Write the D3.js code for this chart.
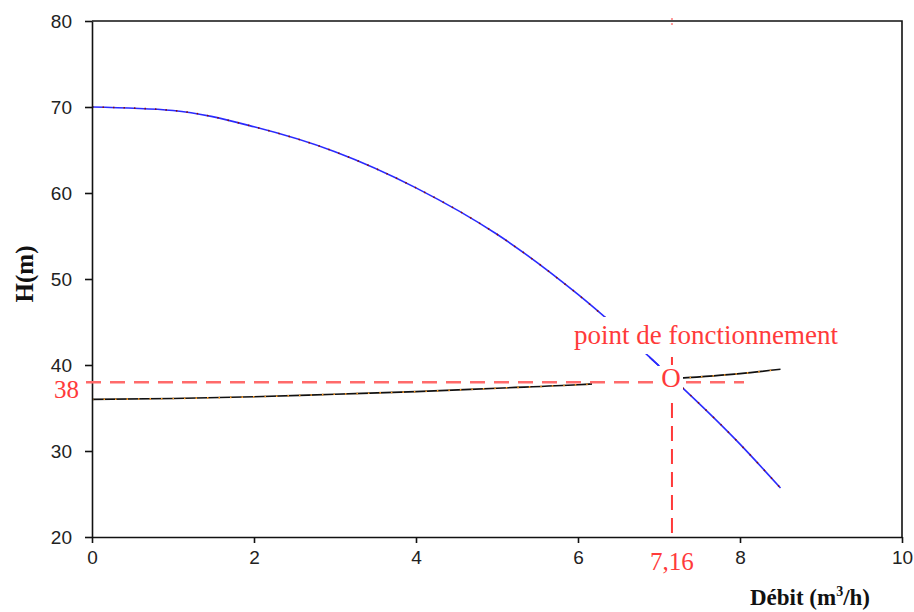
<!DOCTYPE html>
<html>
<head>
<meta charset="utf-8">
<script src="https://cdn.jsdelivr.net/npm/d3@7"></script>
<style>
  body { margin: 0; background: #fff; }
  svg { display: block; }
</style>
</head>
<body>
<div id="chart"></div>
<script>
var width = 914;
var height = 612;

// courbes
var debit = [0, 1, 2, 3, 4, 5, 6, 7, 8, 8.5];
var hPompe = [70, 69.6, 67.7, 64.8, 60.6, 55.2, 48.2, 39.9, 30.8, 25.7];
var hReseau = [36.0, 36.1, 36.3, 36.6, 36.9, 37.3, 37.7, 38.3, 39.0, 39.5];

var xTicks = [0, 2, 4, 6, 8, 10];
var yTicks = [20, 30, 40, 50, 60, 70, 80];

// point de fonctionnement
var qFonct = 7.16;
var hFonct = 38;
var labelFonct = "point de fonctionnement";

var x = d3.scaleLinear().domain([0, 10]).range([92, 902]);
var y = d3.scaleLinear().domain([20, 80]).range([537, 21]);

var svg = d3.select("#chart")
    .append("svg")
    .attr("width", width)
    .attr("height", height);

var line = d3.line()
    .x((d) => x(d[0]))
    .y((d) => y(d[1]))
    .curve(d3.curveMonotoneX);

var pompe = debit.map((q, i) => [q, hPompe[i]]);
var reseau = debit.map((q, i) => [q, hReseau[i]]);

// courbe de la pompe
svg.append("path")
    .attr("d", line(pompe))
    .attr("fill", "none")
    .attr("stroke", "#2a2aff")
    .attr("stroke-width", 1.6);
svg.append("path")
    .attr("d", line(pompe))
    .attr("fill", "none")
    .attr("stroke", "#8b1010")
    .attr("stroke-width", 1.6)
    .attr("stroke-dasharray", "1.5,9");

// courbe du reseau
svg.append("path")
    .attr("d", line(reseau))
    .attr("fill", "none")
    .attr("stroke", "#111")
    .attr("stroke-width", 1.6);
svg.append("path")
    .attr("d", line(reseau))
    .attr("fill", "none")
    .attr("stroke", "#ff9a20")
    .attr("stroke-width", 1.6)
    .attr("stroke-dasharray", "1.5,10");

// fonds blancs des etiquettes
svg.append("rect")
    .attr("x", 570).attr("y", 317)
    .attr("width", 272).attr("height", 37)
    .attr("fill", "#fff");
svg.append("rect")
    .attr("x", 592).attr("y", 366)
    .attr("width", 91).attr("height", 30)
    .attr("fill", "#fff");

// petit bout de courbe visible au-dessus du O
svg.append("clipPath").attr("id", "clipBout")
    .append("rect").attr("x", 649).attr("y", 355).attr("width", 10).attr("height", 11);
svg.append("path")
    .attr("d", line(pompe))
    .attr("fill", "none")
    .attr("stroke", "#2a2aff")
    .attr("stroke-width", 1.6)
    .attr("clip-path", "url(#clipBout)");

// axes
var axeX = d3.axisBottom(x).tickValues(xTicks).tickSize(6).tickSizeOuter(0).tickFormat(d3.format("d"));
var axeY = d3.axisLeft(y).tickValues(yTicks).tickSize(7).tickSizeOuter(0).tickFormat(d3.format("d"));

var gx = svg.append("g").attr("transform", "translate(0," + y(20) + ")").call(axeX);
var gy = svg.append("g").attr("transform", "translate(" + x(0) + ",0)").call(axeY);

[gx, gy].forEach((g) => {
    g.select(".domain").attr("stroke", "#111").attr("stroke-width", 1.6);
    g.selectAll(".tick line").attr("stroke", "#111").attr("stroke-width", 1.6);
    g.selectAll(".tick text")
        .attr("fill", "#222")
        .style("font-family", "'Liberation Sans', Arial, sans-serif")
        .style("font-size", "19px");
});
gx.selectAll(".tick text").attr("dy", "0.71em").attr("y", 14);
gy.selectAll(".tick text").attr("x", -20);

// cadre haut et droit
svg.append("path")
    .attr("d", "M" + x(0) + "," + y(80) + "H" + x(10) + "V" + y(20))
    .attr("fill", "none")
    .attr("stroke", "#111")
    .attr("stroke-width", 1.6);

// lignes de rappel
svg.append("line")
    .attr("x1", x(qFonct)).attr("x2", x(qFonct))
    .attr("y1", 357).attr("y2", y(20))
    .attr("stroke", "#ff3a3a")
    .attr("stroke-width", 2)
    .attr("stroke-dasharray", "15,8");
svg.append("line")
    .attr("x1", x(qFonct)).attr("x2", x(qFonct))
    .attr("y1", 18).attr("y2", 26)
    .attr("stroke", "#ff9a9a")
    .attr("stroke-width", 2)
    .attr("stroke-dasharray", "2,3");

// fond du O
svg.append("rect")
    .attr("x", 660).attr("y", 365)
    .attr("width", 22).attr("height", 32)
    .attr("fill", "#fff");

svg.append("line")
    .attr("x1", 86).attr("x2", 744)
    .attr("y1", y(hFonct)).attr("y2", y(hFonct))
    .attr("stroke", "#ff6a6a")
    .attr("stroke-width", 2.4)
    .attr("stroke-dasharray", "15,9");

var serif = "'Liberation Serif', 'Times New Roman', serif";

svg.append("rect")
    .attr("x", 662).attr("y", 368)
    .attr("width", 18).attr("height", 22)
    .attr("fill", "#fff");

svg.append("text")
    .attr("x", x(qFonct) - 1).attr("y", 387)
    .attr("text-anchor", "middle")
    .attr("fill", "#ff3a3a")
    .style("font-family", serif)
    .style("font-size", "27px")
    .text("O");

svg.append("text")
    .attr("x", 706).attr("y", 344)
    .attr("text-anchor", "middle")
    .attr("fill", "#ff3a3a")
    .style("font-family", serif)
    .style("font-size", "27px")
    .text(labelFonct);

svg.append("text")
    .attr("x", 79).attr("y", 398)
    .attr("text-anchor", "end")
    .attr("fill", "#ff3a3a")
    .style("font-family", serif)
    .style("font-size", "25px")
    .text(String(hFonct));

svg.append("text")
    .attr("x", x(qFonct)).attr("y", 570)
    .attr("text-anchor", "middle")
    .attr("fill", "#ff3a3a")
    .style("font-family", serif)
    .style("font-size", "25px")
    .text(String(qFonct).replace(".", ","));

// titres des axes
var titreX = svg.append("text")
    .attr("x", 870).attr("y", 605)
    .attr("text-anchor", "end")
    .attr("fill", "#111")
    .style("font-family", serif)
    .style("font-size", "23px")
    .style("font-weight", "bold");
titreX.append("tspan").text("Débit (m");
titreX.append("tspan").attr("dy", -9).style("font-size", "14px").text("3");
titreX.append("tspan").attr("dy", 9).text("/h)");

svg.append("text")
    .attr("transform", "translate(33,274) rotate(-90)")
    .attr("text-anchor", "middle")
    .attr("fill", "#111")
    .style("font-family", serif)
    .style("font-size", "25px")
    .style("font-weight", "bold")
    .text("H(m)");
</script>
</body>
</html>
